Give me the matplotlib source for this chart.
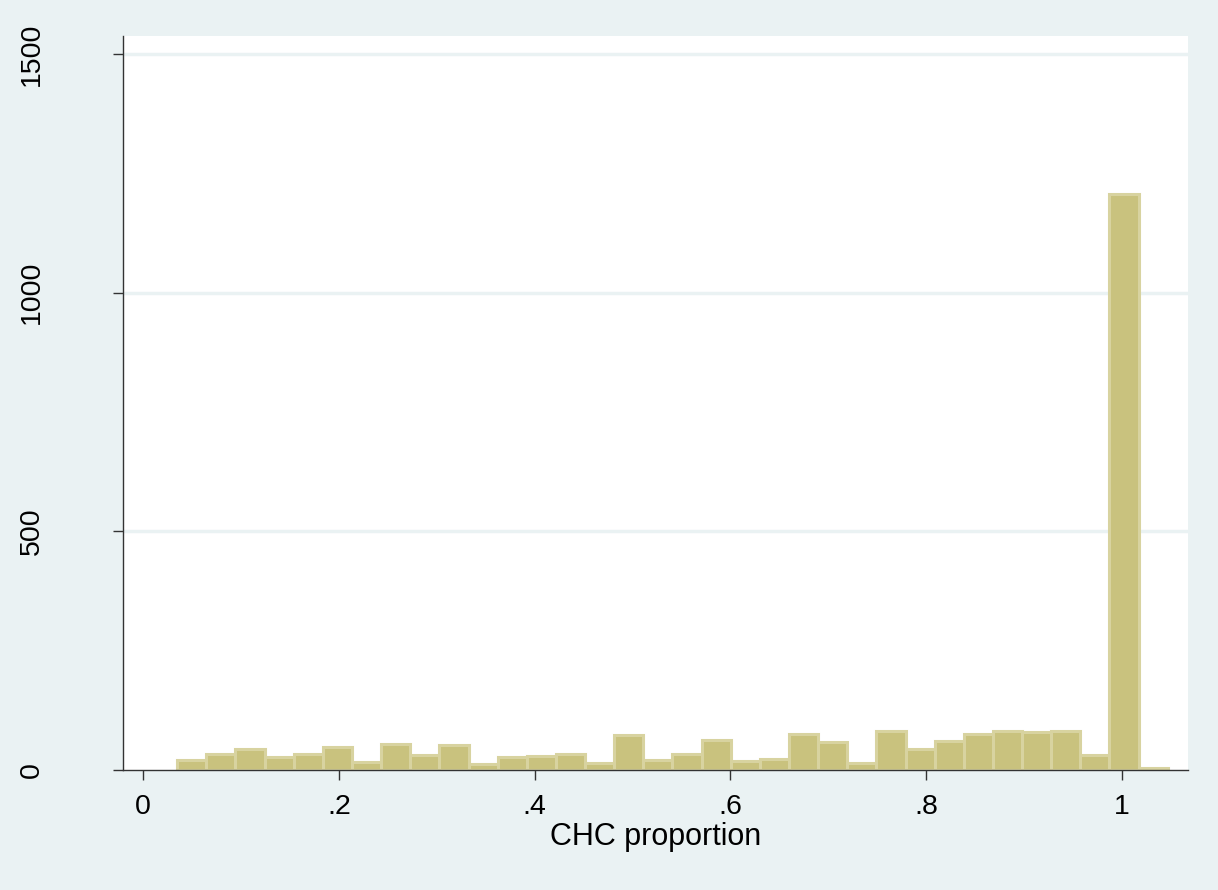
import numpy as np
import matplotlib.pyplot as plt

plt.rcParams['font.family'] = ['Liberation Sans', 'DejaVu Sans']

# histogram bins (left edge of first bin, bin width) and counts
bin_start = 0.0347
bin_width = 0.02977
counts = [21, 33, 45, 27, 33, 49, 17, 54, 31, 52,
          13, 27, 30, 33, 15, 73, 20, 33, 63, 19,
          23, 75, 59, 15, 82, 43, 61, 75, 82, 79,
          82, 31, 1207, 4]

xticks = [0, 0.2, 0.4, 0.6, 0.8, 1.0]
xticklabels = ['0', '.2', '.4', '.6', '.8', '1']
yticks = [0, 500, 1000, 1500]
yticklabels = ['0', '500', '1000', '1500']

bg = '#eaf2f3'
fill = '#c9c27e'
edge = '#d8d3a0'
axcol = '#333333'

lefts = bin_start + bin_width * np.arange(len(counts))

fig = plt.figure(figsize=(12.18, 8.90), dpi=100, facecolor=bg)
ax = fig.add_axes([123 / 1218, 1 - 770 / 890, (1188 - 123) / 1218, (770 - 36) / 890])
ax.set_facecolor('white')

ax.bar(lefts, counts, width=bin_width, align='edge', color=fill,
       edgecolor=edge, linewidth=2.2, zorder=3)

ax.set_xlim(-0.0207, 1.0676)
ax.set_ylim(0, 1538)

ax.set_yticks(yticks)
ax.set_yticklabels(yticklabels, rotation=90, va='center')
ax.set_xticks(xticks)
ax.set_xticklabels(xticklabels)

for y in yticks[1:]:
    ax.axhline(y, color=bg, linewidth=2.5, zorder=1)

for s in ['top', 'right']:
    ax.spines[s].set_visible(False)
for s in ['left', 'bottom']:
    ax.spines[s].set_color(axcol)
    ax.spines[s].set_linewidth(1.0)
    ax.spines[s].set_zorder(4)

ax.tick_params(axis='x', direction='out', length=7, width=1, color=axcol,
               labelsize=20.5, pad=10)
ax.tick_params(axis='y', direction='out', length=7, width=1, color=axcol,
               labelsize=20.5, pad=49)

ax.set_xlabel('CHC proportion', fontsize=22, labelpad=2)

fig.savefig('out.png', dpi=100, facecolor=bg)
